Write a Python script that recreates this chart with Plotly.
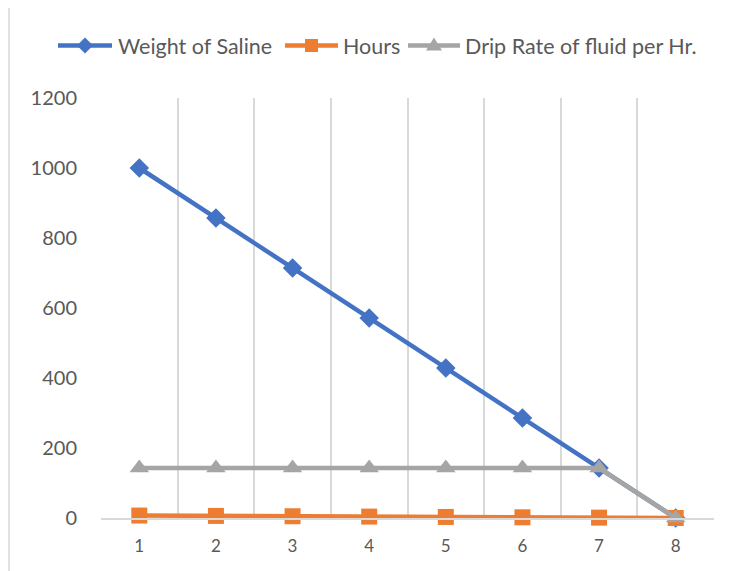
import plotly.graph_objects as go

categories = ["1", "2", "3", "4", "5", "6", "7", "8"]
weight_of_saline = [1000, 857.14, 714.29, 571.43, 428.57, 285.71, 142.86, 0]
hours = [7, 6, 5, 4, 3, 2, 1, 0]
drip_rate = [142.86, 142.86, 142.86, 142.86, 142.86, 142.86, 142.86, 0]
series_names = ["Weight of Saline", "Hours", "Drip Rate of fluid per Hr."]
colors = ["#4472C4", "#ED7D31", "#A5A5A5"]

FONT = "Lato, Liberation Sans, Arial, sans-serif"
TXT = "#595959"
GRID = "#D9D9D9"

# plot area in screen pixels (page body adds an 8px offset)
PL, PR, PT, PB = 101, 714, 98, 518
PW, PH = PR - PL, PB - PT


def fx(sx):
    return (sx - PL) / PW


def fy(sy):
    return (PB - sy) / PH


fig = go.Figure()
fig.add_trace(go.Scatter(x=categories, y=weight_of_saline, name=series_names[0],
                         mode="lines+markers", showlegend=False, cliponaxis=False,
                         line=dict(color=colors[0], width=4.5),
                         marker=dict(symbol="diamond", size=15, color=colors[0])))
fig.add_trace(go.Scatter(x=categories, y=hours, name=series_names[1],
                         mode="lines+markers", showlegend=False, cliponaxis=False,
                         line=dict(color=colors[1], width=4.5),
                         marker=dict(symbol="square", size=16, color=colors[1])))
fig.add_trace(go.Scatter(x=categories, y=drip_rate, name=series_names[2],
                         mode="lines+markers", showlegend=False, cliponaxis=False,
                         line=dict(color=colors[2], width=4.5),
                         marker=dict(symbol="triangle-up", size=17, color=colors[2])))

fig.update_layout(
    width=737, height=571,
    margin=dict(l=PL - 8, r=737 - PR + 8, t=PT - 8, b=571 - PB + 8),
    paper_bgcolor="white", plot_bgcolor="white",
    font=dict(family=FONT, color=TXT),
    showlegend=False,
    xaxis=dict(type="category", tickson="boundaries", showgrid=True,
               gridcolor=GRID, gridwidth=1.5, ticks="", showline=True,
               linecolor=GRID, linewidth=1.5,
               tickfont=dict(size=17, color=TXT, family=FONT), range=[-0.5, 7.5],
               ticklabelstandoff=12, fixedrange=True),
    yaxis=dict(range=[0, 1200], dtick=200, showgrid=False, zeroline=False,
               showline=False, ticks="", tickfont=dict(size=20, color=TXT, family=FONT),
               ticklabelstandoff=23),
)

# chart area border (top and left edges visible)
fig.add_shape(type="line", xref="paper", yref="paper", x0=fx(9), x1=fx(760), y0=fy(7), y1=fy(7),
              line=dict(color=GRID, width=1.5))
fig.add_shape(type="line", xref="paper", yref="paper", x0=fx(9), x1=fx(9), y0=fy(600), y1=fy(7),
              line=dict(color=GRID, width=1.5))

# custom legend
LY = 45.5
legend_items = [
    (58, 112, 118, "diamond"),
    (285, 338, 343, "square"),
    (408, 460, 465, "triangle"),
]
for (x0, x1, tx, sym), name, col in zip(legend_items, series_names, colors):
    fig.add_shape(type="line", xref="paper", yref="paper",
                  x0=fx(x0), x1=fx(x1), y0=fy(LY), y1=fy(LY),
                  line=dict(color=col, width=4.5))
    cx = (x0 + x1) / 2
    if sym == "diamond":
        r = 8
        path = (f"M {fx(cx - r)} {fy(LY)} L {fx(cx)} {fy(LY - r)} "
                f"L {fx(cx + r)} {fy(LY)} L {fx(cx)} {fy(LY + r)} Z")
        fig.add_shape(type="path", xref="paper", yref="paper", path=path,
                      fillcolor=col, line=dict(color=col, width=0))
    elif sym == "square":
        r = 6.5
        fig.add_shape(type="rect", xref="paper", yref="paper",
                      x0=fx(cx - r), x1=fx(cx + r), y0=fy(LY + r), y1=fy(LY - r),
                      fillcolor=col, line=dict(color=col, width=0))
    else:
        r = 8
        path = (f"M {fx(cx - r)} {fy(LY + 5)} L {fx(cx + r)} {fy(LY + 5)} "
                f"L {fx(cx)} {fy(LY - 8)} Z")
        fig.add_shape(type="path", xref="paper", yref="paper", path=path,
                      fillcolor=col, line=dict(color=col, width=0))
    fig.add_annotation(xref="paper", yref="paper", x=fx(tx), y=fy(LY),
                       xanchor="left", yanchor="middle", showarrow=False,
                       text=name, font=dict(size=21.5, color=TXT, family=FONT),
                       xshift=-1, borderpad=0)

fig.write_html("out.html")
